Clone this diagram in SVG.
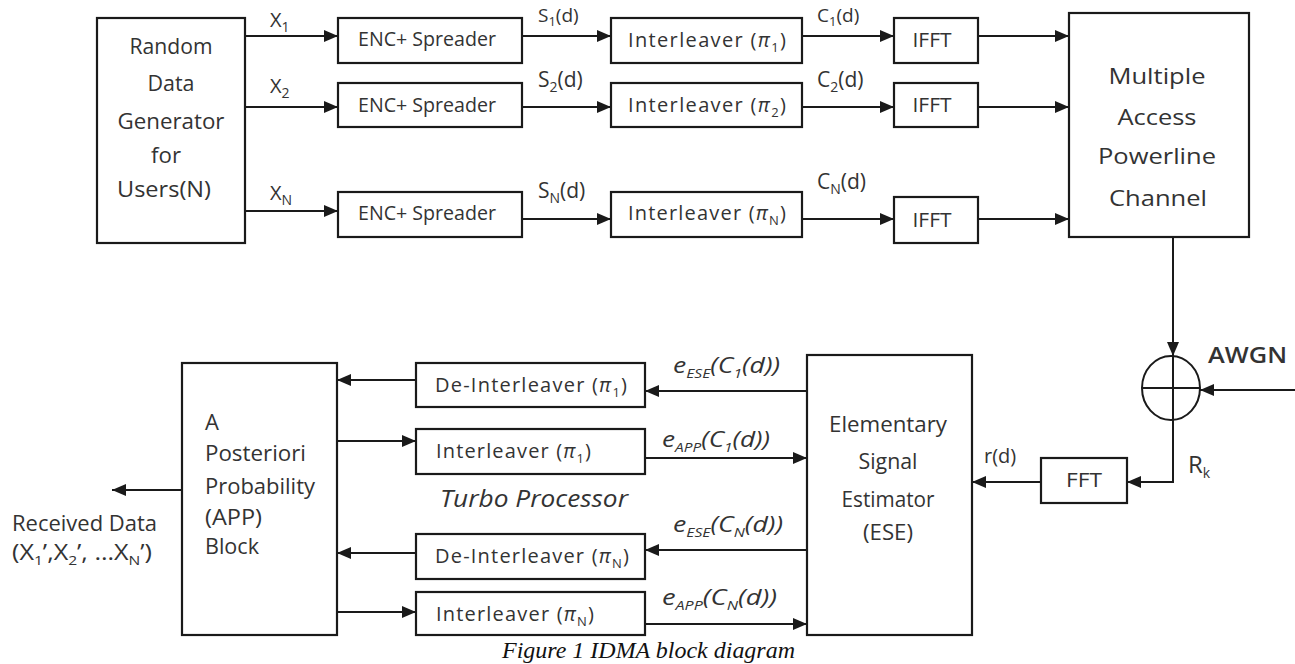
<svg xmlns="http://www.w3.org/2000/svg" width="1295" height="664" viewBox="0 0 1295 664">
<defs>
<marker id="ah" viewBox="0 0 14 12" markerWidth="14" markerHeight="12" refX="14" refY="6" markerUnits="userSpaceOnUse" orient="auto">
<path d="M0,0 L14,6 L0,12 z" fill="#1a1a1a"/>
</marker>
<style>
.box{fill:#fff;stroke:#1a1a1a;stroke-width:2.2}
.ln{fill:none;stroke:#1a1a1a;stroke-width:2}
.t{font-family:"Open Sans","Noto Sans",sans-serif;font-size:20px;fill:#333}
.b{font-size:22px}
.c{text-anchor:middle}
.i{font-style:italic}
.sub{font-size:13px}
.s14{font-size:14px}
.cap{font-family:"Liberation Serif","Times New Roman",serif;font-style:italic;font-size:24px;fill:#111}
</style>
</defs>
<rect width="1295" height="664" fill="#fff"/>

<g id="connectors">
<path class="ln" d="M245,36 H338" marker-end="url(#ah)"/>
<path class="ln" d="M245,107 H338" marker-end="url(#ah)"/>
<path class="ln" d="M245,211 H338" marker-end="url(#ah)"/>
<path class="ln" d="M522,36 H611" marker-end="url(#ah)"/>
<path class="ln" d="M522,107 H611" marker-end="url(#ah)"/>
<path class="ln" d="M522,219 H611" marker-end="url(#ah)"/>
<path class="ln" d="M802,36 H894" marker-end="url(#ah)"/>
<path class="ln" d="M802,107 H894" marker-end="url(#ah)"/>
<path class="ln" d="M802,219 H894" marker-end="url(#ah)"/>
<path class="ln" d="M978,36 H1069" marker-end="url(#ah)"/>
<path class="ln" d="M978,107 H1069" marker-end="url(#ah)"/>
<path class="ln" d="M978,219 H1069" marker-end="url(#ah)"/>
<path class="ln" d="M1173,237 V356" marker-end="url(#ah)"/>
<path class="ln" d="M1295,390 H1200" marker-end="url(#ah)"/>
<path class="ln" d="M1173,420 V482 H1127" marker-end="url(#ah)"/>
<path class="ln" d="M1041,482 H972" marker-end="url(#ah)"/>
<path class="ln" d="M807,391 H645" marker-end="url(#ah)"/>
<path class="ln" d="M416,380 H337" marker-end="url(#ah)"/>
<path class="ln" d="M337,441 H416" marker-end="url(#ah)"/>
<path class="ln" d="M645,458 H807" marker-end="url(#ah)"/>
<path class="ln" d="M807,550 H645" marker-end="url(#ah)"/>
<path class="ln" d="M416,553 H337" marker-end="url(#ah)"/>
<path class="ln" d="M337,612 H416" marker-end="url(#ah)"/>
<path class="ln" d="M645,624 H807" marker-end="url(#ah)"/>
<path class="ln" d="M182,490 H112" marker-end="url(#ah)"/>
<text class="t" x="270" y="27">X<tspan class="s14" dy="5">1</tspan></text>
<text class="t" x="270" y="93">X<tspan class="s14" dy="5">2</tspan></text>
<text class="t" x="270" y="200">X<tspan class="s14" dy="5">N</tspan></text>
<text class="t" x="538" y="22" style="font-size:19px">S<tspan class="sub" dy="4">1</tspan><tspan dy="-4">(d)</tspan></text>
<text class="t" x="538" y="87" style="font-size:21px">S<tspan class="s14" dy="5">2</tspan><tspan dy="-5">(d)</tspan></text>
<text class="t" x="538" y="198" style="font-size:21px">S<tspan class="s14" dy="5">N</tspan><tspan dy="-5">(d)</tspan></text>
<text class="t" x="817" y="22" style="font-size:19px">C<tspan class="sub" dy="4">1</tspan><tspan dy="-4">(d)</tspan></text>
<text class="t" x="817" y="87" style="font-size:21px">C<tspan class="s14" dy="5">2</tspan><tspan dy="-5">(d)</tspan></text>
<text class="t" x="817" y="189" style="font-size:21px">C<tspan class="s14" dy="5">N</tspan><tspan dy="-5">(d)</tspan></text>
<text class="t" x="1208" y="363" style="font-size:22px;font-weight:600" textLength="79" lengthAdjust="spacingAndGlyphs">AWGN</text>
<text class="t" x="1188" y="473" style="font-size:24px">R<tspan class="s14" dy="5">k</tspan></text>
<text class="t" x="984" y="463">r(d)</text>
<text class="t i" x="673" y="373" style="font-size:22px" textLength="107" lengthAdjust="spacingAndGlyphs">e<tspan class="sub" dy="5">ESE</tspan><tspan dy="-5">(C</tspan><tspan class="sub" dy="5">1</tspan><tspan dy="-5">(d))</tspan></text>
<text class="t i" x="662" y="447" style="font-size:22px" textLength="108" lengthAdjust="spacingAndGlyphs">e<tspan class="sub" dy="5">APP</tspan><tspan dy="-5">(C</tspan><tspan class="sub" dy="5">1</tspan><tspan dy="-5">(d))</tspan></text>
<text class="t i" x="673" y="532" style="font-size:22px" textLength="110" lengthAdjust="spacingAndGlyphs">e<tspan class="sub" dy="5">ESE</tspan><tspan dy="-5">(C</tspan><tspan class="sub" dy="5">N</tspan><tspan dy="-5">(d))</tspan></text>
<text class="t i" x="662" y="605" style="font-size:22px" textLength="115" lengthAdjust="spacingAndGlyphs">e<tspan class="sub" dy="5">APP</tspan><tspan dy="-5">(C</tspan><tspan class="sub" dy="5">N</tspan><tspan dy="-5">(d))</tspan></text>
<text class="t" x="12" y="531" style="font-size:21px" textLength="145" lengthAdjust="spacingAndGlyphs">Received Data</text>
<text class="t" x="12" y="560" style="font-size:21px" textLength="140" lengthAdjust="spacingAndGlyphs">(X<tspan class="sub" dy="5">1</tspan><tspan dy="-5">’,X</tspan><tspan class="sub" dy="5">2</tspan><tspan dy="-5">’, …X</tspan><tspan class="sub" dy="5">N</tspan><tspan dy="-5">’)</tspan></text>
<text class="t i" x="440" y="507" style="font-size:23px" textLength="188" lengthAdjust="spacingAndGlyphs">Turbo Processor</text>
</g>

<g id="random">
<rect class="box" x="97" y="18" width="148" height="225"/>
<text class="t b c" x="171" y="54" textLength="83" lengthAdjust="spacingAndGlyphs">Random</text>
<text class="t b c" x="171" y="91" textLength="47" lengthAdjust="spacingAndGlyphs">Data</text>
<text class="t b c" x="171" y="129" textLength="107" lengthAdjust="spacingAndGlyphs">Generator</text>
<text class="t b c" x="166" y="163" textLength="30" lengthAdjust="spacingAndGlyphs">for</text>
<text class="t b c" x="164" y="197" textLength="94" lengthAdjust="spacingAndGlyphs">Users(N)</text>
</g>

<g id="enc1"><rect class="box" x="338" y="18" width="184" height="45"/><text class="t c" x="427" y="46" textLength="138" lengthAdjust="spacingAndGlyphs">ENC+ Spreader</text></g>
<g id="enc2"><rect class="box" x="338" y="83" width="184" height="44"/><text class="t c" x="427" y="112" textLength="138" lengthAdjust="spacingAndGlyphs">ENC+ Spreader</text></g>
<g id="encN"><rect class="box" x="338" y="192" width="184" height="45"/><text class="t c" x="427" y="220" textLength="138" lengthAdjust="spacingAndGlyphs">ENC+ Spreader</text></g>

<g id="int1"><rect class="box" x="611" y="18" width="191" height="45"/><text class="t" x="628" y="47" textLength="158">Interleaver (<tspan class="i">π</tspan><tspan class="sub" dy="5">1</tspan><tspan dy="-5">)</tspan></text></g>
<g id="int2"><rect class="box" x="611" y="83" width="191" height="44"/><text class="t" x="628" y="112" textLength="158">Interleaver (<tspan class="i">π</tspan><tspan class="sub" dy="5">2</tspan><tspan dy="-5">)</tspan></text></g>
<g id="intN"><rect class="box" x="611" y="192" width="191" height="45"/><text class="t" x="628" y="220" textLength="158">Interleaver (<tspan class="i">π</tspan><tspan class="sub" dy="5">N</tspan><tspan dy="-5">)</tspan></text></g>

<g id="ifft1"><rect class="box" x="894" y="18" width="84" height="45"/><text class="t c" x="932" y="47" textLength="39" lengthAdjust="spacingAndGlyphs">IFFT</text></g>
<g id="ifft2"><rect class="box" x="894" y="83" width="84" height="44"/><text class="t c" x="932" y="112" textLength="39" lengthAdjust="spacingAndGlyphs">IFFT</text></g>
<g id="ifftN"><rect class="box" x="894" y="197" width="84" height="46"/><text class="t c" x="932" y="227" textLength="39" lengthAdjust="spacingAndGlyphs">IFFT</text></g>

<g id="channel">
<rect class="box" x="1069" y="13" width="180" height="224"/>
<text class="t b c" x="1157" y="84" textLength="97" lengthAdjust="spacingAndGlyphs">Multiple</text>
<text class="t b c" x="1157" y="125" textLength="79" lengthAdjust="spacingAndGlyphs">Access</text>
<text class="t b c" x="1157" y="164" textLength="118" lengthAdjust="spacingAndGlyphs">Powerline</text>
<text class="t b c" x="1158" y="206" textLength="98" lengthAdjust="spacingAndGlyphs">Channel</text>
</g>

<g id="adder">
<ellipse cx="1171" cy="388" rx="29" ry="32" fill="#fff" stroke="#1a1a1a" stroke-width="2"/>
<path class="ln" d="M1173,356 V420 M1142,388 H1200"/>
</g>

<g id="fft"><rect class="box" x="1041" y="458" width="86" height="45"/><text class="t c" x="1084" y="487" textLength="36" lengthAdjust="spacingAndGlyphs">FFT</text></g>

<g id="ese">
<rect class="box" x="807" y="355" width="165" height="280"/>
<text class="t b c" x="888" y="432" textLength="118" lengthAdjust="spacingAndGlyphs">Elementary</text>
<text class="t b c" x="888" y="469" textLength="59" lengthAdjust="spacingAndGlyphs">Signal</text>
<text class="t b c" x="888" y="507" textLength="93" lengthAdjust="spacingAndGlyphs">Estimator</text>
<text class="t b c" x="888" y="540" textLength="50" lengthAdjust="spacingAndGlyphs">(ESE)</text>
</g>

<g id="deint1"><rect class="box" x="416" y="363" width="229" height="44"/><text class="t" x="435" y="392" textLength="192">De-Interleaver (<tspan class="i">π</tspan><tspan class="sub" dy="5">1</tspan><tspan dy="-5">)</tspan></text></g>
<g id="intl1"><rect class="box" x="416" y="429" width="229" height="45"/><text class="t" x="436" y="458" textLength="155">Interleaver (<tspan class="i">π</tspan><tspan class="sub" dy="5">1</tspan><tspan dy="-5">)</tspan></text></g>
<g id="deintN"><rect class="box" x="416" y="534" width="229" height="45"/><text class="t" x="435" y="563" textLength="194">De-Interleaver (<tspan class="i">π</tspan><tspan class="sub" dy="5">N</tspan><tspan dy="-5">)</tspan></text></g>
<g id="intlN"><rect class="box" x="416" y="592" width="229" height="43"/><text class="t" x="436" y="621" textLength="158">Interleaver (<tspan class="i">π</tspan><tspan class="sub" dy="5">N</tspan><tspan dy="-5">)</tspan></text></g>

<g id="app">
<rect class="box" x="182" y="363" width="155" height="272"/>
<text class="t b" x="205" y="430">A</text>
<text class="t b" x="205" y="461" textLength="101" lengthAdjust="spacingAndGlyphs">Posteriori</text>
<text class="t b" x="205" y="494" textLength="110" lengthAdjust="spacingAndGlyphs">Probability</text>
<text class="t b" x="205" y="525" textLength="57" lengthAdjust="spacingAndGlyphs">(APP)</text>
<text class="t b" x="205" y="554" textLength="54" lengthAdjust="spacingAndGlyphs">Block</text>
</g>

<text class="cap" x="502" y="658" textLength="293" lengthAdjust="spacingAndGlyphs">Figure 1 IDMA block diagram</text>
</svg>
